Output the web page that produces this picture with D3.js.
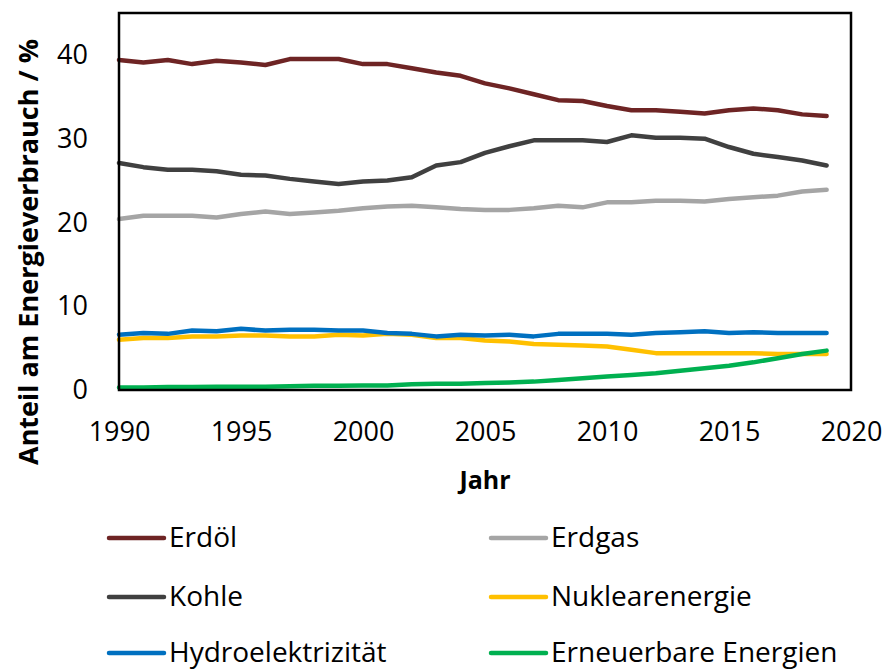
<!DOCTYPE html>
<html><head><meta charset="utf-8">
<script src="https://cdn.jsdelivr.net/npm/d3@7"></script>
<style>body{margin:0;background:#fff;} svg{display:block;}</style>
</head><body>
<svg id="chart" width="885" height="670"></svg>
<script>
const years = d3.range(1990, 2020);
const erdoel = [39.4,39.1,39.4,38.9,39.3,39.1,38.8,39.5,39.5,39.5,38.9,38.9,38.4,37.9,37.5,36.6,36.0,35.3,34.6,34.5,33.9,33.4,33.4,33.2,33.0,33.4,33.6,33.4,32.9,32.7];
const kohle = [27.1,26.6,26.3,26.3,26.1,25.7,25.6,25.2,24.9,24.6,24.9,25.0,25.4,26.8,27.2,28.3,29.1,29.8,29.8,29.8,29.6,30.4,30.1,30.1,30.0,29.0,28.2,27.8,27.4,26.8];
const erdgas = [20.4,20.8,20.8,20.8,20.6,21.0,21.3,21.0,21.2,21.4,21.7,21.9,22.0,21.8,21.6,21.5,21.5,21.7,22.0,21.8,22.4,22.4,22.6,22.6,22.5,22.8,23.0,23.2,23.7,23.9];
const nuklear = [6.0,6.2,6.2,6.4,6.4,6.5,6.5,6.4,6.4,6.6,6.5,6.7,6.6,6.2,6.2,5.9,5.8,5.5,5.4,5.3,5.2,4.8,4.4,4.4,4.4,4.4,4.4,4.3,4.3,4.3];
const hydro = [6.6,6.8,6.7,7.1,7.0,7.3,7.1,7.2,7.2,7.1,7.1,6.8,6.7,6.4,6.6,6.5,6.6,6.4,6.7,6.7,6.7,6.6,6.8,6.9,7.0,6.8,6.9,6.8,6.8,6.8];
const erneuerbar = [0.3,0.3,0.35,0.35,0.4,0.4,0.4,0.45,0.5,0.5,0.55,0.55,0.7,0.75,0.75,0.83,0.9,1.0,1.2,1.4,1.6,1.8,2.0,2.3,2.6,2.9,3.3,3.8,4.3,4.7];
const xTicks = [1990,1995,2000,2005,2010,2015,2020];
const yTicks = [0,10,20,30,40];
const seriesNames = ["Erdöl","Kohle","Erdgas","Nuklearenergie","Hydroelektrizität","Erneuerbare Energien"];
const seriesColors = ["#6E2424","#404040","#A5A5A5","#FFC000","#0070C0","#00B050"];
const seriesValues = [erdoel,kohle,erdgas,nuklear,hydro,erneuerbar];

const svg = d3.select("#chart");
const L=119, R=851, T=13, B=390;
const font = "'Open Sans', sans-serif";
const x = d3.scaleLinear().domain([1990,2020]).range([L,R]);
const y = d3.scaleLinear().domain([0,45]).range([B,T]);

const line = d3.line().x((d,i)=>x(years[i])).y(d=>y(d));
const g = svg.append("g");
[0,1,2,3,4,5].forEach(k=>{
  g.append("path").datum(seriesValues[k]).attr("d",line)
   .attr("fill","none").attr("stroke",seriesColors[k]).attr("stroke-width",4.5)
   .attr("stroke-linejoin","round").attr("stroke-linecap","round");
});

svg.append("rect").attr("x",L).attr("y",T).attr("width",R-L).attr("height",B-T)
  .attr("fill","none").attr("stroke","#000").attr("stroke-width",2.5);

const xAxis = svg.append("g").attr("transform",`translate(0,${B})`)
  .call(d3.axisBottom(x).tickValues(xTicks).tickSize(0).tickPadding(32).tickFormat(d3.format("d")));
xAxis.select(".domain").remove();
xAxis.selectAll("text").attr("font-family",font).attr("font-size",27).attr("fill","#000");

const yAxis = svg.append("g").attr("transform",`translate(${L},0)`)
  .call(d3.axisLeft(y).tickValues(yTicks).tickSize(0).tickPadding(31));
yAxis.select(".domain").remove();
yAxis.selectAll("text").attr("font-family",font).attr("font-size",27).attr("fill","#000");

svg.append("text").attr("x",485).attr("y",489).attr("text-anchor","middle")
  .attr("font-family",font).attr("font-weight","bold").attr("font-size",25).text("Jahr");
svg.append("text").attr("transform","translate(38,252) rotate(-90)").attr("text-anchor","middle")
  .attr("font-family",font).attr("font-weight","bold").attr("font-size",27)
  .text("Anteil am Energieverbrauch / %");

const legendOrder = [0,2,1,3,4,5];
const colX = [109,491], rowY = [538,597,653];
legendOrder.forEach((k,i)=>{
  const cx = colX[i%2], cy = rowY[Math.floor(i/2)];
  svg.append("line").attr("x1",cx).attr("x2",cx+55).attr("y1",cy).attr("y2",cy)
    .attr("stroke",seriesColors[k]).attr("stroke-width",4.5).attr("stroke-linecap","round");
  svg.append("text").attr("x",cx+60).attr("y",cy+9)
    .attr("font-family",font).attr("font-size",28).attr("fill","#000").text(seriesNames[k]);
});
</script>
</body></html>
